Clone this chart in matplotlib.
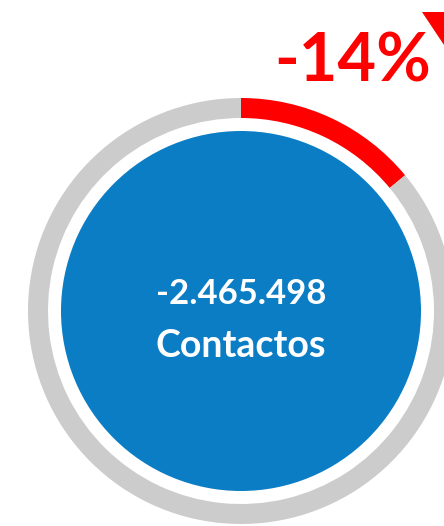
import matplotlib
matplotlib.use("Agg")
import matplotlib.pyplot as plt
from matplotlib.patches import Circle, Polygon

# Data
change_pct = -14
total_value = -2465498
metric_label = "Contactos"
ring_shares = [abs(change_pct), 100 - abs(change_pct)]
ring_colors = ["#FF0000", "#CCCCCC"]

W, H = 444, 526
fig = plt.figure(figsize=(W / 100, H / 100), dpi=100)
ax = fig.add_axes([0, 0, 1, 1])

cx, cy = 241, H - 311
ax.pie(ring_shares, colors=ring_colors, startangle=90, counterclock=False,
       center=(cx, cy), radius=213, wedgeprops=dict(width=20, linewidth=0))
ax.add_patch(Circle((cx, cy), 180, facecolor="#0B7DC4", edgecolor="none"))

ax.set_xlim(0, W)
ax.set_ylim(0, H)
ax.set_aspect("equal")
ax.axis("off")

fam = ["Lato", "DejaVu Sans"]
num_txt = f"{total_value:,}".replace(",", ".")
ax.text(cx, H - 294, num_txt, color="white", fontsize=25, fontweight="bold",
        family=fam, ha="center", va="center")
ax.text(cx, H - 346, metric_label, color="white", fontsize=27, fontweight="bold",
        family=fam, ha="center", va="center")
ax.text(353, H - 63, f"{change_pct}%", color="#FF0000", fontsize=48,
        fontweight="bold", family=fam, ha="center", va="center")

# down-pointing indicator triangle
ax.add_patch(Polygon([(422, H - 12), (470, H - 12), (446, H - 48)],
                     closed=True, facecolor="#FF0000", edgecolor="none"))

fig.savefig("out.png", dpi=100, facecolor="white")
